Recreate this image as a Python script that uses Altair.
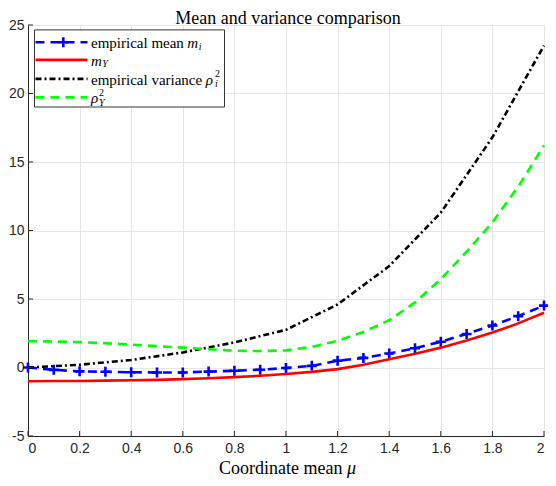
import altair as alt
import pandas as pd

# ---------------- data ----------------
mu = [0.0, 0.1, 0.2, 0.3, 0.4, 0.5, 0.6, 0.7, 0.8, 0.9, 1.0,
      1.1, 1.2, 1.3, 1.4, 1.5, 1.6, 1.7, 1.8, 1.9, 2.0]
emp_mean = [0.0, -0.17, -0.28, -0.31, -0.35, -0.36, -0.36, -0.30, -0.24, -0.16, -0.04,
            0.12, 0.50, 0.70, 1.02, 1.40, 1.88, 2.45, 3.07, 3.75, 4.52]
m_Y = [-1.00, -0.99, -0.98, -0.96, -0.93, -0.90, -0.85, -0.78, -0.70, -0.60, -0.47,
       -0.32, -0.12, 0.20, 0.60, 1.00, 1.45, 1.97, 2.55, 3.22, 4.00]
rho_Y = [1.92, 1.90, 1.85, 1.77, 1.67, 1.56, 1.45, 1.33, 1.23, 1.20, 1.25,
         1.50, 1.95, 2.60, 3.45, 4.75, 6.45, 8.45, 10.6, 13.2, 16.2]
mu_coarse = [0.0, 0.2, 0.4, 0.6, 0.8, 1.0, 1.2, 1.4, 1.6, 1.8, 2.0]
emp_var = [0.0, 0.20, 0.55, 1.10, 1.83, 2.75, 4.60, 7.40, 11.3, 16.8, 23.5]

x_ticks = [0, 0.2, 0.4, 0.6, 0.8, 1, 1.2, 1.4, 1.6, 1.8, 2]
y_ticks = [-5, 0, 5, 10, 15, 20, 25]

title_text = ["Mean and variance comparison"]
xlabel_text = ["Coordinate mean"]
xlabel_sym = ["μ"]

# ---------------- style ----------------
W, H = 516, 411
AX = "#262626"
GRID = "#e6e6e6"
LW = 2.6
SERIF = "Liberation Serif"
SANS = "Liberation Sans"
BLUE, RED, BLACK, GREEN = "#0000ff", "#ff0000", "#000000", "#00ff00"
DASH = [9, 6]
DASHDOT = [6, 3, 2, 3]
PLUS = "M-1,0L1,0M0,-1L0,1"

xs = alt.Scale(domain=[0, 2], nice=False, zero=False)
ys = alt.Scale(domain=[-5, 25], nice=False, zero=False)

ax_x = alt.Axis(values=x_ticks, labelExpr="'' + datum.value", grid=True, gridColor=GRID,
                gridWidth=1, domainColor=AX, domainWidth=1, ticks=False,
                labelFont=SANS, labelFontSize=14, labelColor=AX, labelPadding=5,
                title=None)
ax_y = alt.Axis(values=y_ticks, labelExpr="'' + datum.value", grid=True, gridColor=GRID,
                gridWidth=1, domainColor=AX, domainWidth=1, ticks=False,
                labelFont=SANS, labelFontSize=14, labelColor=AX, labelPadding=4,
                title=None)

df = pd.DataFrame({"mu": mu, "emp_mean": emp_mean, "m_Y": m_Y, "rho_Y": rho_Y})
dfv = pd.DataFrame({"mu": mu_coarse, "emp_var": emp_var})

X = alt.X("mu:Q", scale=xs, axis=ax_x)


def Y(field):
    return alt.Y(f"{field}:Q", scale=ys, axis=ax_y)


base = alt.Chart(df)

blue_line = base.mark_line(color=BLUE, strokeWidth=LW, strokeDash=DASH).encode(x=X, y=Y("emp_mean"))
blue_pts = base.mark_point(shape=PLUS, size=100, color=BLUE, strokeWidth=LW, filled=False, opacity=1).encode(x=X, y=Y("emp_mean"))
red_line = base.mark_line(color=RED, strokeWidth=LW).encode(x=X, y=Y("m_Y"))
black_line = alt.Chart(dfv).mark_line(color=BLACK, strokeWidth=LW, strokeDash=DASHDOT).encode(x=X, y=Y("emp_var"))
green_line = base.mark_line(color=GREEN, strokeWidth=LW, strokeDash=DASH).encode(x=X, y=Y("rho_Y"))

# inward ticks
yt = alt.Chart(pd.DataFrame({"v": y_ticks})).mark_rule(color=AX, strokeWidth=1).encode(
    y=alt.Y("v:Q", scale=ys, axis=ax_y), x=alt.value(0), x2=alt.value(5))
xt = alt.Chart(pd.DataFrame({"v": x_ticks})).mark_rule(color=AX, strokeWidth=1).encode(
    x=alt.X("v:Q", scale=xs, axis=ax_x), y=alt.value(H), y2=alt.value(H - 5))


def txt(s, x, y, size=15, italic=False, align="left", baseline="middle"):
    kw = dict(font=SERIF, fontSize=size, color="#000000", align=align, baseline=baseline)
    if italic:
        kw["fontStyle"] = "italic"
    return alt.Chart(pd.DataFrame({"t": s})).mark_text(**kw).encode(
        text="t:N", x=alt.value(x), y=alt.value(y))


title = txt(title_text, 260, -1, size=18, align="center", baseline="alphabetic")
xl1 = txt(xlabel_text, 191, 449, size=18, baseline="alphabetic")
xl2 = txt(xlabel_sym, 319, 449, size=18, italic=True, baseline="alphabetic")

# legend
leg_box = alt.Chart(pd.DataFrame({"a": [0]})).mark_rect(fill="white", stroke="black", strokeWidth=0.8).encode(
    x=alt.value(6.5), x2=alt.value(196.5), y=alt.value(4.9), y2=alt.value(82))
rows = [17.2, 34.9, 53.9, 72.4]
lx0, lx1 = 7.5, 59.5


def sample(y, color, dash=None):
    kw = dict(color=color, strokeWidth=LW)
    if dash:
        kw["strokeDash"] = dash
    return alt.Chart(pd.DataFrame({"a": [0]})).mark_rule(**kw).encode(
        x=alt.value(lx0), x2=alt.value(lx1), y=alt.value(y))


s1 = sample(rows[0], BLUE, DASH)
s1p = alt.Chart(pd.DataFrame({"a": [0]})).mark_point(shape=PLUS, size=100, color=BLUE, strokeWidth=LW, opacity=1).encode(
    x=alt.value(35.3), y=alt.value(rows[0]))
s2 = sample(rows[1], RED)
s3 = sample(rows[2], BLACK, DASHDOT)
s4 = sample(rows[3], GREEN, DASH)

tx = 63.0
l1a = txt(["empirical mean"], tx, rows[0] + 1)
l1b = txt(["m"], 159.3, rows[0] + 1, italic=True)
l1c = txt(["i"], 170.8, rows[0] + 4.5, size=10, italic=True)
l2a = txt(["m"], tx, rows[1] + 1, italic=True)
l2b = txt(["Y"], 74.2, rows[1] + 4.5, size=10, italic=True)
l3a = txt(["empirical variance"], tx, rows[2] + 1)
l3b = txt(["ρ"], 177.7, rows[2] + 1, italic=True)
l3c = txt(["2"], 187.0, rows[2] - 4.5, size=10)
l3d = txt(["i"], 187.0, rows[2] + 5.5, size=10, italic=True)
l4a = txt(["ρ"], tx, rows[3] + 1, italic=True)
l4b = txt(["2"], 71.0, rows[3] - 4.5, size=10)
l4c = txt(["Y"], 71.0, rows[3] + 5.5, size=10, italic=True)

chart = alt.layer(
    blue_line, blue_pts, red_line, black_line, green_line, yt, xt,
    leg_box, s1, s1p, s2, s3, s4,
    l1a, l1b, l1c, l2a, l2b, l3a, l3b, l3c, l3d, l4a, l4b, l4c,
    title, xl1, xl2,
).properties(
    width=W, height=H,
    autosize=alt.AutoSizeParams(type="none"),
    padding={"left": 20, "top": 17, "right": 4, "bottom": 42},
    background="white",
).configure_view(stroke=None)

chart.save("out.html", embed_options={"renderer": "svg", "actions": False})
